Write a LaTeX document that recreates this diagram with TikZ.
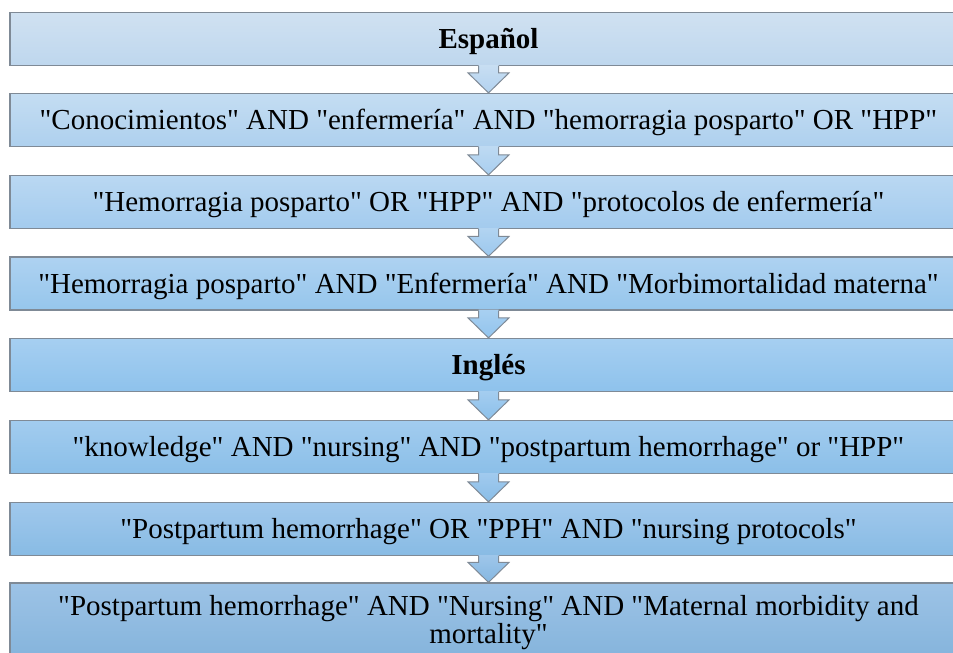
\documentclass[tikz,border=0pt]{standalone}
\usepackage{fontspec}
\setmainfont{Liberation Serif}[Ligatures=TeXOff]
\usetikzlibrary{calc}
\definecolor{bordergray}{HTML}{7F8A96}
\tikzset{
  basebox/.style={draw=bordergray, line width=1.2pt, minimum width=957pt, minimum height=53pt,
    inner sep=0pt, align=center, font=\fontsize{29}{28}\selectfont},
  flowbox/.style={basebox, text height=22pt, text depth=3pt},
  headbox/.style={flowbox, font=\fontsize{29}{28}\selectfont\bfseries},
  arrowline/.style={draw=bordergray, line width=1pt, line join=miter},
}
\newcommand{\blockarrow}[4]{%
  \shade[top color=#3, bottom color=#4]
    ($(#1.south)+(-10,-1)$) -- ($(#2.north)+(-10,-20)$) -- ($(#2.north)+(-20.5,-20)$) --
    (#2.north) -- ($(#2.north)+(20.5,-20)$) -- ($(#2.north)+(10,-20)$) --
    ($(#1.south)+(10,-1)$) -- cycle;
  \draw[arrowline]
    ($(#1.south)+(-10,0)$) -- ($(#2.north)+(-10,-20)$) -- ($(#2.north)+(-20.5,-20)$) --
    (#2.north) -- ($(#2.north)+(20.5,-20)$) -- ($(#2.north)+(10,-20)$) --
    ($(#1.south)+(10,0)$);
}
\begin{document}
\begin{tikzpicture}[x=1pt,y=-1pt]
\useasboundingbox (0,0) rectangle (953,653);
\clip (0,0) rectangle (953,653);
\node[headbox, top color={rgb,255:red,208;green,225;blue,241}, bottom color={rgb,255:red,190;green,215;blue,238}] (b1) at (488.5,39) {Español};
\node[flowbox, top color={rgb,255:red,196;green,221;blue,242}, bottom color={rgb,255:red,174;green,208;blue,238}] (b2) at (488.5,120) {"Conocimientos" AND "enfermería" AND "hemorragia posparto" OR "HPP"};
\node[flowbox, top color={rgb,255:red,186;green,216;blue,242}, bottom color={rgb,255:red,163;green,203;blue,238}] (b3) at (488.5,202) {"Hemorragia posparto" OR "HPP" AND "protocolos de enfermería"};
\node[flowbox, top color={rgb,255:red,174;green,210;blue,241}, bottom color={rgb,255:red,150;green,198;blue,236}] (b4) at (488.5,283.5) {"Hemorragia posparto" AND "Enfermería" AND "Morbimortalidad materna"};
\node[headbox, top color={rgb,255:red,166;green,207;blue,241}, bottom color={rgb,255:red,142;green,194;blue,236}] (b5) at (488.5,365) {Inglés};
\node[flowbox, top color={rgb,255:red,162;green,204;blue,239}, bottom color={rgb,255:red,139;green,191;blue,232}] (b6) at (488.5,447) {"knowledge" AND "nursing" AND "postpartum hemorrhage" or "HPP"};
\node[flowbox, top color={rgb,255:red,160;green,200;blue,236}, bottom color={rgb,255:red,136;green,187;blue,228}] (b7) at (488.5,529) {"Postpartum hemorrhage" OR "PPH" AND "nursing protocols"};
\node[basebox, minimum height=80pt, top color={rgb,255:red,157;green,195;blue,230}, bottom color={rgb,255:red,131;green,179;blue,219}] (b8) at (488.5,623) {"Postpartum hemorrhage" AND "Nursing" AND "Maternal morbidity and\\mortality"};
\blockarrow{b1}{b2}{{rgb,255:red,200;green,222;blue,242}}{{rgb,255:red,178;green,210;blue,240}}
\blockarrow{b2}{b3}{{rgb,255:red,190;green,218;blue,242}}{{rgb,255:red,168;green,206;blue,240}}
\blockarrow{b3}{b4}{{rgb,255:red,178;green,212;blue,241}}{{rgb,255:red,156;green,200;blue,238}}
\blockarrow{b4}{b5}{{rgb,255:red,168;green,208;blue,241}}{{rgb,255:red,146;green,196;blue,238}}
\blockarrow{b5}{b6}{{rgb,255:red,164;green,205;blue,240}}{{rgb,255:red,140;green,192;blue,234}}
\blockarrow{b6}{b7}{{rgb,255:red,161;green,202;blue,238}}{{rgb,255:red,137;green,189;blue,231}}
\blockarrow{b7}{b8}{{rgb,255:red,158;green,198;blue,234}}{{rgb,255:red,133;green,183;blue,225}}
\end{tikzpicture}
\end{document}
